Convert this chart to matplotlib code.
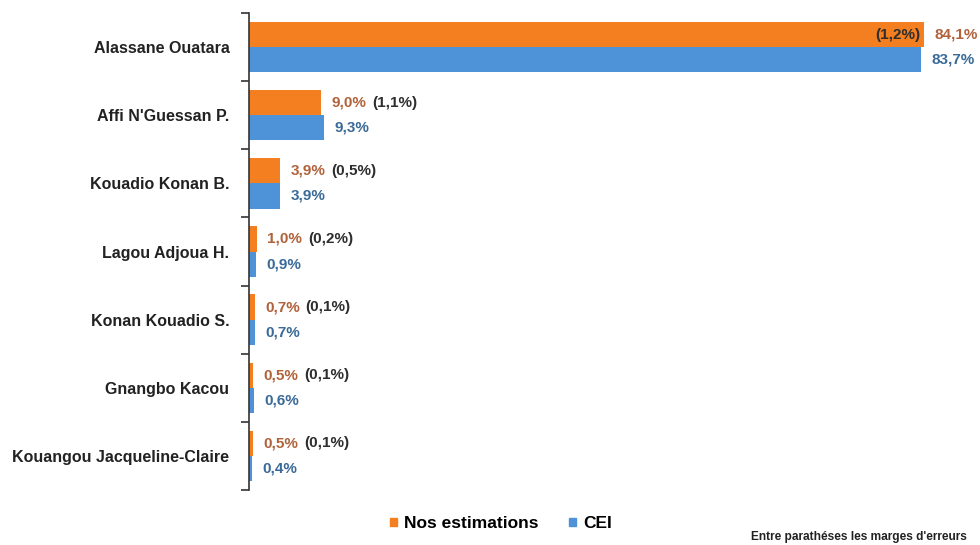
import matplotlib.pyplot as plt
import numpy as np
from matplotlib.patches import Patch

plt.rcParams['font.family'] = ['Liberation Sans Narrow', 'Liberation Sans', 'DejaVu Sans']
plt.rcParams['font.weight'] = 'bold'

candidats = [
    "Alassane Ouatara", "Affi N'Guessan P.", "Kouadio Konan B.",
    "Lagou Adjoua H.", "Konan Kouadio S.", "Gnangbo Kacou",
    "Kouangou Jacqueline-Claire",
]
nos_estimations = [84.1, 9.0, 3.9, 1.0, 0.7, 0.5, 0.5]
cei = [83.7, 9.3, 3.9, 0.9, 0.7, 0.6, 0.4]
marges = [1.2, 1.1, 0.5, 0.2, 0.1, 0.1, 0.1]

orange = '#f47f20'
bleu = '#4e93d8'
txt_orange = '#b0623a'
txt_bleu = '#3a6a98'
txt_gris = '#2e2e2e'


def fr(v):
    return f"{v:.1f}%".replace('.', ',')


fig = plt.figure(figsize=(9.8, 5.45), dpi=100)
ax = fig.add_axes([0.254, 0.101, 0.736, 0.875])

y = np.arange(len(candidats))
h = 0.37
ax.barh(y - h / 2, nos_estimations, height=h, color=orange)
ax.barh(y + h / 2, cei, height=h, color=bleu)

ax.set_xlim(0, 89.8)
ax.set_ylim(len(candidats) - 0.5, -0.5)

for i, (v1, v2, m) in enumerate(zip(nos_estimations, cei, marges)):
    t1 = ax.annotate(fr(v1), xy=(v1, i - h / 2), xytext=(7.5, 0),
                     textcoords='offset points', va='center', ha='left',
                     fontsize=11, color=txt_orange)
    ax.annotate(fr(v2), xy=(v2, i + h / 2), xytext=(7.5, 0),
                textcoords='offset points', va='center', ha='left',
                fontsize=11, color=txt_bleu)
    marge = f"({m:.1f}%)".replace('.', ',')
    if v1 > 50:
        # marge écrite dans la barre
        ax.annotate(marge, xy=(v1, i - h / 2), xytext=(-3, 0),
                    textcoords='offset points', va='center', ha='right',
                    fontsize=11, color=txt_gris)
    else:
        ax.annotate(marge, xy=(1, 0.5), xycoords=t1, xytext=(4, 0),
                    textcoords='offset points', va='center', ha='left',
                    fontsize=11, color=txt_gris)

# axe vertical avec graduations entre les catégories
ax.set_yticks(y)
ax.set_yticklabels(candidats, fontsize=11.5, color='#222222')
ax.tick_params(axis='y', which='major', length=0, pad=14)
ax.set_yticks(np.arange(-0.5, len(candidats)), minor=True)
ax.tick_params(axis='y', which='minor', length=6, width=1.2, color='#333333')
ax.set_xticks([])
for s in ['top', 'right', 'bottom']:
    ax.spines[s].set_visible(False)
ax.spines['left'].set_linewidth(1.2)
ax.spines['left'].set_color('#333333')

handles = [Patch(color=orange, label='Nos estimations'), Patch(color=bleu, label='CEI')]
fig.legend(handles=handles, loc='center', bbox_to_anchor=(0.511, 0.039), ncol=2,
           frameon=False, fontsize=12.5, handlelength=0.4, handleheight=0.4,
           handletextpad=0.4, columnspacing=1.8)

fig.text(0.987, 0.015, "Entre parathéses les marges d'erreurs", ha='right',
         va='center', fontsize=8.6, color='#222222')

fig.savefig('out.png', dpi=100)
